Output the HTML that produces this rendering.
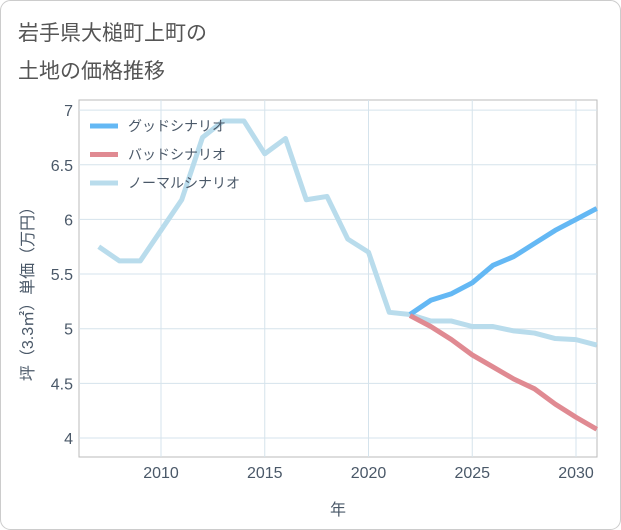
<!DOCTYPE html>
<html><head><meta charset="utf-8"><style>
body{margin:0;background:#fff;}
svg{display:block;font-family:"Liberation Sans","Noto Sans CJK JP",sans-serif;}
</style></head><body>
<svg id="c" width="621" height="530">
<rect x="0.5" y="0.5" width="620" height="529" rx="10" fill="#fff" stroke="#ccc"/>
<text x="18" y="40" font-size="21" fill="#555">岩手県大槌町上町の</text>
<text x="18" y="78" font-size="21" fill="#555">土地の価格推移</text>
<g id="g"></g>
</svg>
<script>
const years=[2007,2008,2009,2010,2011,2012,2013,2014,2015,2016,2017,2018,2019,2020,2021,2022,2023,2024,2025,2026,2027,2028,2029,2030,2031];
const normal=[5.75,5.62,5.62,5.9,6.18,6.75,6.9,6.9,6.6,6.74,6.18,6.21,5.82,5.7,5.15,5.13,5.07,5.07,5.02,5.02,4.98,4.96,4.91,4.9,4.85];
const goodYears=[2022,2023,2024,2025,2026,2027,2028,2029,2030,2031];
const good=[5.13,5.26,5.32,5.42,5.58,5.66,5.78,5.9,6.0,6.1];
const bad=[5.12,5.02,4.9,4.76,4.65,4.54,4.45,4.31,4.19,4.08];
const xTicks=[2010,2015,2020,2025,2030];
const yTicks=[4,4.5,5,5.5,6,6.5,7];
const L=79,R=597,T=100,B=457;
const X=v=>161+(v-2010)*20.75;
const Y=v=>438-(v-4)*109.3;
const g=document.getElementById('g');
const NS='http://www.w3.org/2000/svg';
const TC='#4a5868';
function mk(t,a,p){const e=document.createElementNS(NS,t);for(const k in a)e.setAttribute(k,a[k]);(p||g).appendChild(e);return e;}
mk('rect',{x:L,y:T,width:R-L,height:B-T,fill:'none',stroke:'#bbb'});
xTicks.forEach(v=>{const l=mk('line',{x1:X(v),x2:X(v),y1:T,y2:B,stroke:'#d5e3ec'});

const t=mk('text',{x:X(v),y:478,'font-size':16,fill:TC,'text-anchor':'middle'});t.textContent=v;
});
yTicks.forEach(v=>{const l=mk('line',{x1:L,x2:R,y1:Y(v),y2:Y(v),stroke:'#d5e3ec'});

const t=mk('text',{x:73,y:Y(v)+6,'font-size':16,fill:TC,'text-anchor':'end'});t.textContent=v;
});
function line(xs,ys,col,name){const d=xs.map((x,i)=>(i?'L':'M')+X(x)+','+Y(ys[i])).join('');
const p=mk('path',{d:d,fill:'none',stroke:col,'stroke-width':5,'stroke-linejoin':'round'});
}
line(years,normal,'#b9dcec','normal-series');
line(goodYears,good,'#64b8f4','good-series');
line(goodYears,bad,'#e08a92','bad-series');
const lg=[['グッドシナリオ','#64b8f4'],['バッドシナリオ','#e08a92'],['ノーマルシナリオ','#b9dcec']];
lg.forEach((e,i)=>{const y=126+i*28.5;
const l=mk('line',{x1:90,x2:118,y1:y,y2:y,stroke:e[1],'stroke-width':5});

const t=mk('text',{x:128,y:y+5,'font-size':14,fill:TC});t.textContent=e[0];
});
const xt=mk('text',{x:338,y:515,'font-size':16,fill:TC,'text-anchor':'middle'});xt.textContent='年';

const yt=mk('text',{x:0,y:0,'font-size':16,fill:TC,'text-anchor':'middle',transform:'translate(33,290) rotate(-90)'});yt.textContent='坪（3.3㎡）単価（万円）';

</script>
</body></html>
